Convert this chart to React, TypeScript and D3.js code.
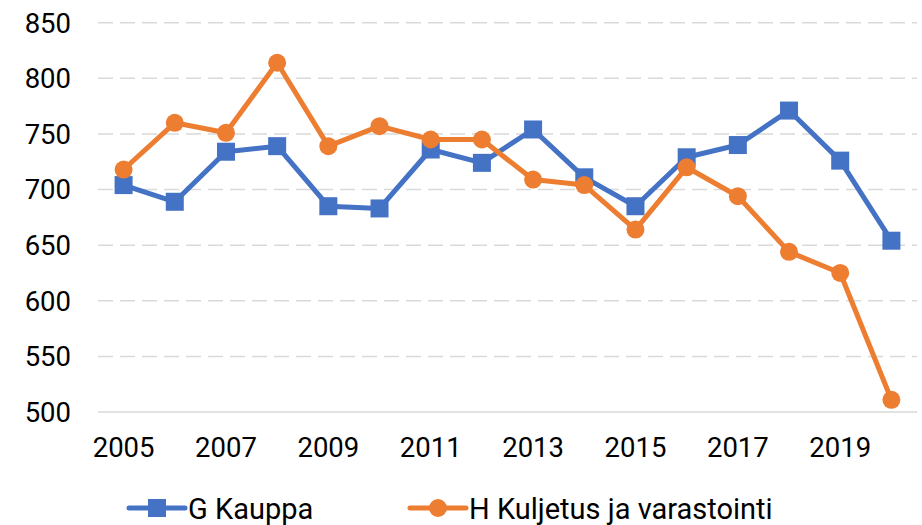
import React from 'react';
import * as d3 from 'd3';

const years = [2005, 2006, 2007, 2008, 2009, 2010, 2011, 2012, 2013, 2014, 2015, 2016, 2017, 2018, 2019, 2020];
const kauppa = [704, 689, 734, 739, 685, 683, 736, 724, 754, 711, 685, 729, 740, 771, 726, 654];
const kuljetus = [718, 760, 751, 814, 739, 757, 745, 745, 709, 704, 664, 720, 694, 644, 625, 511];
const yTicks = [500, 550, 600, 650, 700, 750, 800, 850];
const xLabels = [2005, 2007, 2009, 2011, 2013, 2015, 2017, 2019];

const BLUE = '#4472C4';
const ORANGE = '#ED7D31';
const FONT = 'Roboto, sans-serif';

export default function App() {
  const width = 922;
  const height = 525;
  const margin = { top: 22.7, right: 5, bottom: 113, left: 98 };

  const x = d3.scaleBand<number>()
    .domain(years)
    .range([margin.left, width - margin.right])
    .padding(0);
  const cx = (yr: number) => (x(yr) || 0) + x.bandwidth() / 2;

  const y = d3.scaleLinear()
    .domain([500, 850])
    .range([height - margin.bottom, margin.top]);

  const line = d3.line<number>()
    .x((_, i) => cx(years[i]))
    .y(d => y(d));

  const series = [
    { name: 'G Kauppa', values: kauppa, color: BLUE, marker: 'square' },
    { name: 'H Kuljetus ja varastointi', values: kuljetus, color: ORANGE, marker: 'circle' },
  ];

  const legendY = 508;
  const legendItems = [
    { x: 129, ...series[0] },
    { x: 410, ...series[1] },
  ];

  return (
    <div style={{ position: 'absolute', left: 0, top: 0 }}>
      <svg width={width} height={height} style={{ display: 'block', background: '#fff' }}>
        {/* gridlines */}
        {yTicks.map(t => (
          <line
            key={t}
            x1={margin.left}
            x2={width - margin.right}
            y1={y(t)}
            y2={y(t)}
            stroke="#D9D9D9"
            strokeWidth={1.5}
            strokeDasharray={t === 500 ? undefined : '15,7'}
          />
        ))}
        {/* y tick labels */}
        {yTicks.map(t => (
          <text
            key={t}
            x={71}
            y={y(t)}
            dy="0.36em"
            textAnchor="end"
            fontFamily={FONT}
            fontSize={27.5}
            fill="#000"
          >
            {t}
          </text>
        ))}
        {/* x tick labels */}
        {xLabels.map(yr => (
          <text
            key={yr}
            x={cx(yr)}
            y={447}
            dy="0.36em"
            textAnchor="middle"
            fontFamily={FONT}
            fontSize={27.5}
            fill="#000"
          >
            {yr}
          </text>
        ))}
        {/* series */}
        {series.map(s => (
          <g key={s.name}>
            <path d={line(s.values) || ''} fill="none" stroke={s.color} strokeWidth={5} strokeLinejoin="round" />
            {s.values.map((v, i) =>
              s.marker === 'square' ? (
                <rect key={i} x={cx(years[i]) - 9} y={y(v) - 9} width={18} height={18} fill={s.color} />
              ) : (
                <circle key={i} cx={cx(years[i])} cy={y(v)} r={9} fill={s.color} />
              )
            )}
          </g>
        ))}
        {/* legend */}
        {legendItems.map(item => (
          <g key={item.name}>
            <line x1={item.x} x2={item.x + 56} y1={legendY} y2={legendY} stroke={item.color} strokeWidth={5} strokeLinecap="round" />
            {item.marker === 'square' ? (
              <rect x={item.x + 19} y={legendY - 9} width={18} height={18} fill={item.color} />
            ) : (
              <circle cx={item.x + 28} cy={legendY} r={9} fill={item.color} />
            )}
            <text
              x={item.x + 59}
              y={legendY + 1}
              dy="0.36em"
              fontFamily={FONT}
              fontSize={29}
              fill="#000"
            >
              {item.name}
            </text>
          </g>
        ))}
      </svg>
    </div>
  );
}
